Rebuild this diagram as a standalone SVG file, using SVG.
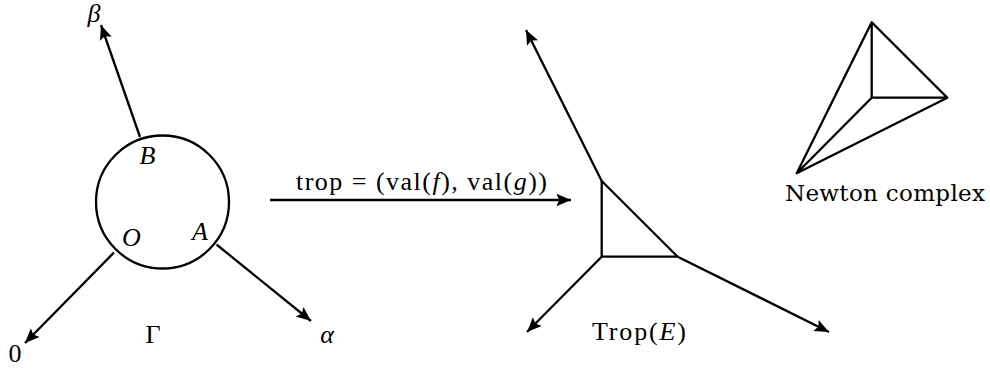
<svg xmlns="http://www.w3.org/2000/svg" width="990" height="371" viewBox="0 0 990 371">
<style>
.e{stroke:#000;stroke-width:2.3;fill:none;stroke-linejoin:round}
.a{marker-end:url(#ah)}
text{font-family:"Liberation Serif","DejaVu Serif",serif;fill:#000;font-size:26px}
.i{font-style:italic}
.nc{font-family:"DejaVu Serif","Liberation Serif",serif;font-size:23px}
</style>
<defs>
<marker id="ah" markerUnits="userSpaceOnUse" markerWidth="18" markerHeight="16" viewBox="-15 -7 16 14" refX="0" refY="0" orient="auto">
<path d="M0,0 L-13,-5.5 L-10.5,0 L-13,5.5 Z" fill="#000"/>
</marker>
</defs>
<rect width="990" height="371" fill="#fff"/>
<g id="connectors">
<line class="e a" x1="140" y1="137" x2="101" y2="25"/>
<line class="e a" x1="114" y1="252.5" x2="25" y2="343"/>
<line class="e a" x1="216.5" y1="244.5" x2="311" y2="321"/>
<line class="e a" x1="270" y1="200" x2="571" y2="200"/>
<line class="e a" x1="601.7" y1="181" x2="526" y2="30"/>
<line class="e a" x1="601.7" y1="256.7" x2="527" y2="332"/>
<line class="e a" x1="677.7" y1="256.7" x2="829" y2="332"/>
</g>
<g id="gamma">
<circle class="e" cx="162.5" cy="202" r="66.5"/>
<text x="147.5" y="164" class="i" text-anchor="middle">B</text>
<text x="131.5" y="246" class="i" text-anchor="middle">O</text>
<text x="200" y="240" class="i" text-anchor="middle">A</text>
<text x="153" y="343" text-anchor="middle">Γ</text>
<text x="94" y="22" class="i" text-anchor="middle" fill="#444">β</text>
<text x="15" y="362" text-anchor="middle">0</text>
<text x="327" y="343" class="i" text-anchor="middle">α</text>
</g>
<g id="map-label">
<text x="296" y="190" textLength="251" lengthAdjust="spacing">trop = (val(<tspan class="i">f</tspan>), val(<tspan class="i">g</tspan>))</text>
</g>
<g id="trop">
<polygon class="e" points="601.7,181 601.7,256.7 677.7,256.7"/>
<text x="592" y="340" textLength="94" lengthAdjust="spacing">Trop(<tspan class="i">E</tspan>)</text>
</g>
<g id="newton">
<path class="e" d="M871.7,22.3 L871.7,97.7 L947.3,97.7 Z M871.7,22.3 L796.7,173.3 L947.3,97.7 M871.7,97.7 L796.7,173.3"/>
<text x="785" y="201" class="nc" textLength="200" lengthAdjust="spacing">Newton complex</text>
</g>
</svg>
